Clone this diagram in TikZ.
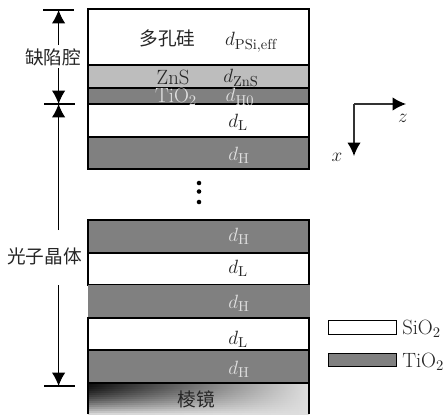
\documentclass[tikz,border=0pt]{standalone}
\usepackage{fontspec}
\usetikzlibrary{arrows.meta}
\newfontfamily\cjk{Noto Sans CJK SC}
\definecolor{hicol}{gray}{0.5}
\definecolor{znscol}{gray}{0.74}
\tikzset{
  layer/.style={draw=black,line width=0.9pt},
  hi/.style={layer,fill=hicol},
  lo/.style={layer,fill=white},
  lab/.style={font=\fontsize{15.5}{17}\selectfont,inner sep=0pt,text=black!85},
  wlab/.style={lab,text=white!88!black},
  zh/.style={font=\cjk\fontsize{14}{16}\selectfont,inner sep=0pt,text=black!85},
  dim/.style={line width=0.8pt,-{Latex[length=10pt,width=10pt]}},
  tick/.style={line width=0.8pt},
  axisline/.style={line width=1pt,black!80,-{Latex[length=10pt,width=10pt,black]}},
  legendbox/.style={minimum width=51pt,minimum height=10pt,inner sep=0pt,anchor=west},
}
\begin{document}
\begin{tikzpicture}[x=0.75pt,y=-0.75pt]
\useasboundingbox (0,0) rectangle (446,414);
% layers
\draw[lo] (88,9) rectangle (309,65);
\draw[layer,fill=znscol] (88,65) rectangle (309,88);
\draw[hi] (88,88) rectangle (309,104);
\draw[lo] (88,104) rectangle (309,137);
\draw[hi] (88,137) rectangle (309,169);
\draw[hi] (88,220) rectangle (309,253);
\draw[lo] (88,253) rectangle (309,285);
\fill[hicol] (88,285) rectangle (310,318);
\draw[lo] (88,318) rectangle (309,350);
\draw[hi] (88,350) rectangle (309,383);
% prism: rows of horizontal shadings, dark at upper left
\begin{scope}
\clip (88,383) rectangle (309,414);
\foreach \r in {0,...,15}{
  \pgfmathsetmacro{\lft}{6+78*(\r/15)^1.6}
  \pgfmathsetmacro{\yy}{383+2*\r}
  \shade[left color=white!\lft!black,right color=white!87!black] (88,\yy) rectangle (309,\yy+2.6);
}
\end{scope}
\draw[layer] (88,414) -- (88,383) -- (309,383) -- (309,414);
% layer labels
\node[zh] (psi) at (167.5,38) {多孔硅};
\node[lab] (dpsi) at (251,42) {$d_{\mathrm{PSi,eff}}$};
\node[lab] (zns) at (173,77) {ZnS};
\node[lab] (dzns) at (241,78) {$d_{\mathrm{ZnS}}$};
\node[wlab] (tio) at (176,97) {TiO$_2$};
\node[wlab] (dh0) at (240,97) {$d_{\mathrm{H0}}$};
\node[lab] (dl1) at (238,122) {$d_{\mathrm{L}}$};
\node[wlab] (dh1) at (239,155) {$d_{\mathrm{H}}$};
\node[wlab] (dh2) at (239,236) {$d_{\mathrm{H}}$};
\node[lab] (dl2) at (238,268) {$d_{\mathrm{L}}$};
\node[wlab] (dh3) at (239,303) {$d_{\mathrm{H}}$};
\node[lab] (dl3) at (238,339) {$d_{\mathrm{L}}$};
\node[wlab] (dh4) at (239,369) {$d_{\mathrm{H}}$};
\node[zh] (prism) at (196,399) {棱镜};
% ellipsis dots
\fill (199,183) circle (1.7pt) (199,191.5) circle (1.7pt) (199,202) circle (1.7pt);
% dimensions
\coordinate (t1) at (58.6,10);
\coordinate (t2) at (58.6,104);
\coordinate (t3) at (58.6,386);
\coordinate (g1) at (58.6,45);
\coordinate (g2) at (58.6,68);
\coordinate (g3) at (58.6,230);
\coordinate (g4) at (58.6,285);
\draw[tick] (43,10) -- (74,10);
\draw[tick] (44,104) -- (75,104);
\draw[tick] (44,386) -- (75,386);
\node[zh] (cav) at (53,57) {缺陷腔};
\node[zh] (pc) at (44.5,256) {光子晶体};
\draw[dim] (g1) -- (t1);
\draw[dim] (g2) -- (t2);
\draw[dim] (g3) -- (t2);
\draw[dim] (g4) -- (t3);
% axes
\coordinate (o) at (354,104);
\coordinate (zend) at (406,104);
\coordinate (xend) at (354,156);
\draw[axisline] (o) -- (zend);
\draw[axisline] (o) -- (xend);
\node[lab] (zl) at (403,118) {$z$};
\node[lab] (xl) at (337,157) {$x$};
% legend
\node[lo,legendbox] (k1) at (327.5,327.5) {};
\node[hi,legendbox] (k2) at (327.5,360) {};
\node[lab,anchor=west] (t1l) at (402,329) {SiO$_2$};
\node[lab,anchor=west] (t2l) at (402,362) {TiO$_2$};
\end{tikzpicture}
\end{document}
